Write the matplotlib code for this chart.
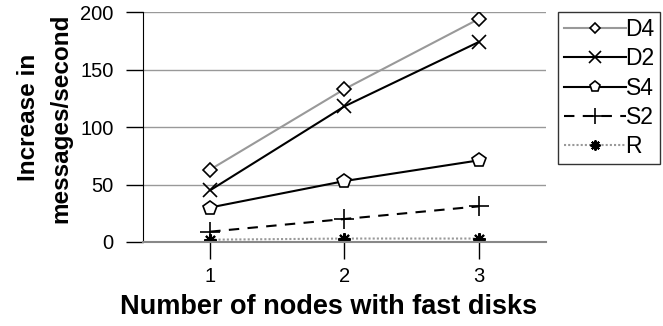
import matplotlib.pyplot as plt

plt.rcParams['font.family'] = ['Liberation Sans', 'DejaVu Sans']

nodes = ['1', '2', '3']
d4 = [63, 133, 194]
d2 = [45, 118, 174]
s4 = [30, 53, 71]
s2 = [9, 20, 31]
r = [2, 3, 3]

fig = plt.figure(figsize=(6.63, 3.26), dpi=100)
ax = fig.add_axes([0.2157, 0.2577, 0.6078, 0.7053])

x = range(len(nodes))
ax.plot(x, d4, color='#999999', lw=1.5, marker='D', ms=7, mfc='white', mec='black', mew=1.2, label='D4')
ax.plot(x, d2, color='black', lw=1.5, marker='x', ms=10, mec='black', mew=1.2, label='D2')
ax.plot(x, s4, color='black', lw=1.5, marker='p', ms=10, mfc='white', mec='black', mew=1.2, label='S4')
ax.plot(x, s2, color='black', lw=1.5, ls=(0, (5, 4)), marker='+', ms=14, mec='black', mew=1.2, label='S2')
ax.plot(x, r, color='#999999', lw=1.5, ls=(0, (1, 1)), marker=(8, 2, 0), ms=9, mec='black', mew=1.5, label='R')

ax.set_xlim(-0.5, 2.5)
ax.set_ylim(0, 200)
ax.set_yticks([0, 50, 100, 150, 200])
ax.set_xticks(list(x))
ax.set_xticklabels(nodes)
ax.yaxis.grid(True, color='#999999', lw=1)
ax.set_axisbelow(True)
for s in ['top', 'right']:
    ax.spines[s].set_visible(False)
ax.spines['left'].set_color('black')
ax.spines['bottom'].set_color('#888888')
ax.spines['bottom'].set_linewidth(1.5)
ax.tick_params(axis='y', length=12, width=1, labelsize=14.5, pad=9)
ax.tick_params(axis='x', length=12, width=1, labelsize=14.5, pad=6)

ax.set_xlabel('Number of nodes with fast disks', fontsize=19.5, fontweight='bold')
ax.xaxis.set_label_coords(0.46, -0.225)
ax.set_ylabel('Increase in\nmessages/second', fontsize=17.5, fontweight='bold', linespacing=1.5)
ax.yaxis.set_label_coords(-0.175, 0.54)

leg = fig.legend(*ax.get_legend_handles_labels(), loc='upper left',
                 bbox_to_anchor=(558 / 663, 1 - 12 / 326), fontsize=16.5, frameon=True,
                 fancybox=False, edgecolor='black', handlelength=2.7, handletextpad=0.0,
                 borderpad=0.25, labelspacing=0.28, borderaxespad=0, markerscale=0.8)
leg.get_frame().set_linewidth(1.0)

fig.savefig('out.png', dpi=100)
